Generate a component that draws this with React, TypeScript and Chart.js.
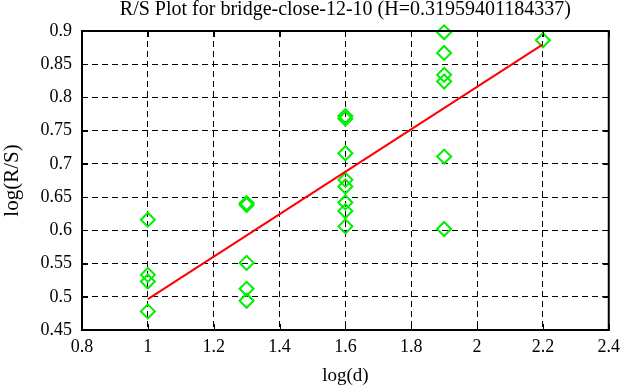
import React, { useEffect, useRef } from "react";
import { Chart, registerables } from "chart.js";

Chart.register(...registerables);

const TITLE = "R/S Plot for bridge-close-12-10 (H=0.31959401184337)";
const X_LABEL = "log(d)";
const Y_LABEL = "log(R/S)";

const pointsX = [
  1, 1, 1, 1,
  1.3, 1.3, 1.3, 1.3, 1.3,
  1.6, 1.6, 1.6, 1.6, 1.6, 1.6, 1.6, 1.6,
  1.9, 1.9, 1.9, 1.9, 1.9, 1.9,
  2.2,
];
const pointsY = [
  0.616, 0.533, 0.523, 0.478,
  0.641, 0.638, 0.551, 0.512, 0.494,
  0.772, 0.768, 0.716, 0.676, 0.666, 0.642, 0.629, 0.606,
  0.898, 0.867, 0.834, 0.824, 0.711, 0.602,
  0.886,
];
const fitX = [1, 2.2];
const fitY = [0.4966, 0.88];

const xTicks = [0.8, 1, 1.2, 1.4, 1.6, 1.8, 2, 2.2, 2.4];
const yTicks = [0.45, 0.5, 0.55, 0.6, 0.65, 0.7, 0.75, 0.8, 0.85, 0.9];

const FONT = "'Liberation Serif', 'Times New Roman', serif";

const framePlugin = {
  id: "frame",
  afterDatasetsDraw(chart: any) {
    const { ctx, chartArea } = chart;
    const xs = chart.scales.x;
    const ys = chart.scales.y;
    ctx.save();
    ctx.strokeStyle = "#000";
    ctx.lineWidth = 1;
    ctx.setLineDash([]);
    const L = 6;
    ctx.beginPath();
    xTicks.forEach((v) => {
      const px = Math.round(xs.getPixelForValue(v)) + 0.5;
      ctx.moveTo(px, chartArea.top);
      ctx.lineTo(px, chartArea.top + L);
      ctx.moveTo(px, chartArea.bottom);
      ctx.lineTo(px, chartArea.bottom - L);
    });
    yTicks.forEach((v) => {
      const py = Math.round(ys.getPixelForValue(v)) + 0.5;
      ctx.moveTo(chartArea.left, py);
      ctx.lineTo(chartArea.left + L, py);
      ctx.moveTo(chartArea.right, py);
      ctx.lineTo(chartArea.right - L, py);
    });
    ctx.stroke();
    ctx.lineWidth = 2;
    ctx.strokeRect(
      chartArea.left,
      chartArea.top,
      chartArea.right - chartArea.left,
      chartArea.bottom - chartArea.top
    );
    ctx.restore();
  },
};

export default function App() {
  const ref = useRef<HTMLCanvasElement | null>(null);

  useEffect(() => {
    if (!ref.current) return;
    const scatter = pointsX.map((x, i) => ({ x, y: pointsY[i] }));
    const fit = fitX.map((x, i) => ({ x, y: fitY[i] }));
    const chart = new Chart(ref.current, {
      type: "scatter",
      data: {
        datasets: [
          {
            type: "scatter",
            data: scatter,
            pointStyle: "rectRot",
            pointRadius: 7,
            pointBorderWidth: 2,
            borderColor: "#00ee00",
            backgroundColor: "rgba(0,0,0,0)",
            clip: false as any,
            order: 2,
          },
          {
            type: "line",
            data: fit,
            borderColor: "#ff0000",
            borderWidth: 2,
            pointRadius: 0,
            fill: false,
            order: 1,
          } as any,
        ],
      },
      options: {
        responsive: false,
        animation: false,
        layout: { padding: { left: 0, right: 15, top: 0, bottom: 0 } },
        plugins: {
          legend: { display: false },
          tooltip: { enabled: false },
          title: {
            display: true,
            text: TITLE,
            fullSize: false,
            color: "#000",
            font: { family: FONT, size: 20, weight: "normal", lineHeight: 1.0 },
            padding: { top: 0, bottom: 11 },
          },
        },
        scales: {
          x: {
            type: "linear",
            min: 0.8,
            max: 2.4,
            afterBuildTicks: (s: any) => {
              s.ticks = xTicks.map((v) => ({ value: v }));
            },
            afterFit: (s: any) => {
              s.height = 57;
            },
            ticks: {
              color: "#000",
              font: { family: FONT, size: 18 },
              padding: 6,
              callback: (v: any) => String(+Number(v).toFixed(2)),
            },
            grid: { color: "#000", lineWidth: 1, drawTicks: false },
            border: { display: false, dash: [6, 4] },
            title: {
              display: true,
              text: X_LABEL,
              color: "#000",
              font: { family: FONT, size: 19 },
              padding: { top: 0, bottom: 0 },
            },
          },
          y: {
            type: "linear",
            min: 0.45,
            max: 0.9,
            afterBuildTicks: (s: any) => {
              s.ticks = yTicks.map((v) => ({ value: v }));
            },
            afterFit: (s: any) => {
              s.width = 82;
            },
            ticks: {
              color: "#000",
              font: { family: FONT, size: 18 },
              padding: 10,
              callback: (v: any) => String(+Number(v).toFixed(2)),
            },
            grid: { color: "#000", lineWidth: 1, drawTicks: false },
            border: { display: false, dash: [6, 4] },
            title: {
              display: true,
              text: Y_LABEL,
              color: "#000",
              font: { family: FONT, size: 21 },
              padding: { top: 0, bottom: 0 },
            },
          },
        },
      },
      plugins: [framePlugin],
    });
    return () => chart.destroy();
  }, []);

  return (
    <div
      style={{
        position: "fixed",
        left: 0,
        top: 0,
        width: 626,
        height: 387,
        background: "#fff",
      }}
    >
      <canvas ref={ref} width={626} height={387} />
    </div>
  );
}
